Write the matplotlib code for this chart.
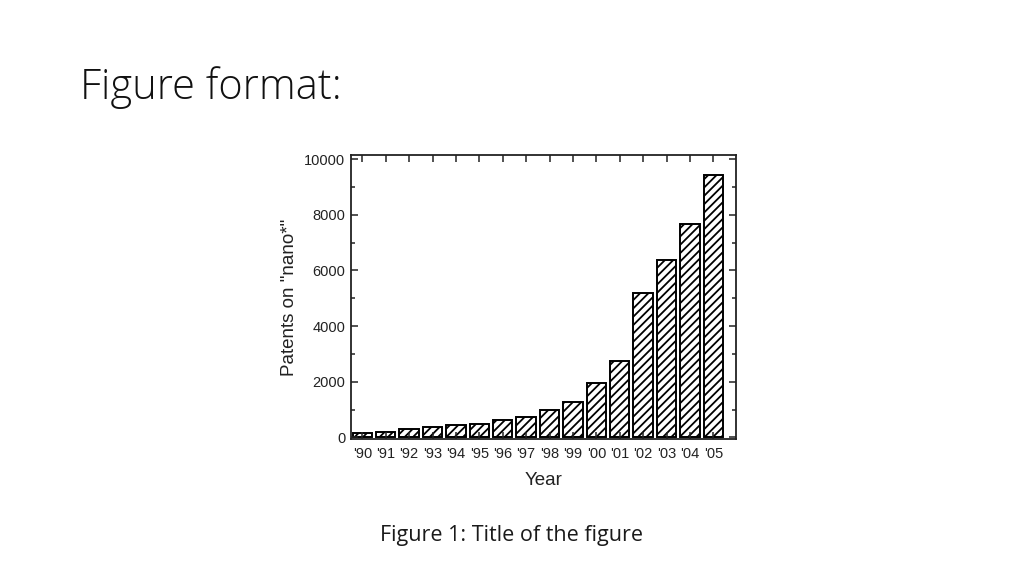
import numpy as np
import matplotlib.pyplot as plt
from matplotlib.ticker import MultipleLocator

# dados
anos = ["'90", "'91", "'92", "'93", "'94", "'95", "'96", "'97",
        "'98", "'99", "'00", "'01", "'02", "'03", "'04", "'05"]
patentes = [150, 180, 300, 370, 440, 490, 630, 730,
            990, 1280, 1950, 2740, 5200, 6390, 7660, 9440]

plt.rcParams['hatch.linewidth'] = 1.3

fig = plt.figure(figsize=(10.24, 5.76), dpi=100)
fig.text(80 / 1024, 1 - 99 / 576, 'Figure format:', family='Open Sans',
         fontsize=30, fontweight='light', color='#111111', ha='left', va='baseline')
fig.text(512 / 1024, 1 - 541 / 576, 'Figure 1: Title of the figure', family='Open Sans',
         fontsize=15.5, color='#1a1a1a', ha='center', va='baseline')

ax = fig.add_axes([350.7 / 1024, 1 - 439 / 576, (736 - 350.7) / 1024, (439 - 155) / 576])
x = np.arange(len(anos))
ax.bar(x, patentes, width=0.83, color='white', edgecolor='black', hatch='////', linewidth=1.4)

ax.set_xlim(-0.5, len(anos) - 0.03)
ax.set_ylim(-60, 10150)
ax.set_xticks(x)
ax.set_xticklabels(anos)
ax.set_yticks([0, 2000, 4000, 6000, 8000, 10000])
ax.yaxis.set_minor_locator(MultipleLocator(1000))
ax.tick_params(which='both', direction='in', top=True, right=True, width=1.1,
               labelsize=10.5, labelfontfamily='Liberation Sans', colors='#222222')
ax.tick_params(which='major', length=5)
ax.tick_params(which='minor', length=3)
ax.tick_params(axis='x', pad=6)
ax.tick_params(axis='y', pad=4)
for s in ax.spines.values():
    s.set_linewidth(1.3)
    s.set_color('#222222')

ax.set_xlabel('Year', family='Liberation Sans', fontsize=13.5, labelpad=8, color='#222222')
ax.set_ylabel('Patents on "nano*"', family='Liberation Sans', fontsize=13.5, labelpad=4,
              color='#222222')

fig.savefig('out.png', dpi=100)
